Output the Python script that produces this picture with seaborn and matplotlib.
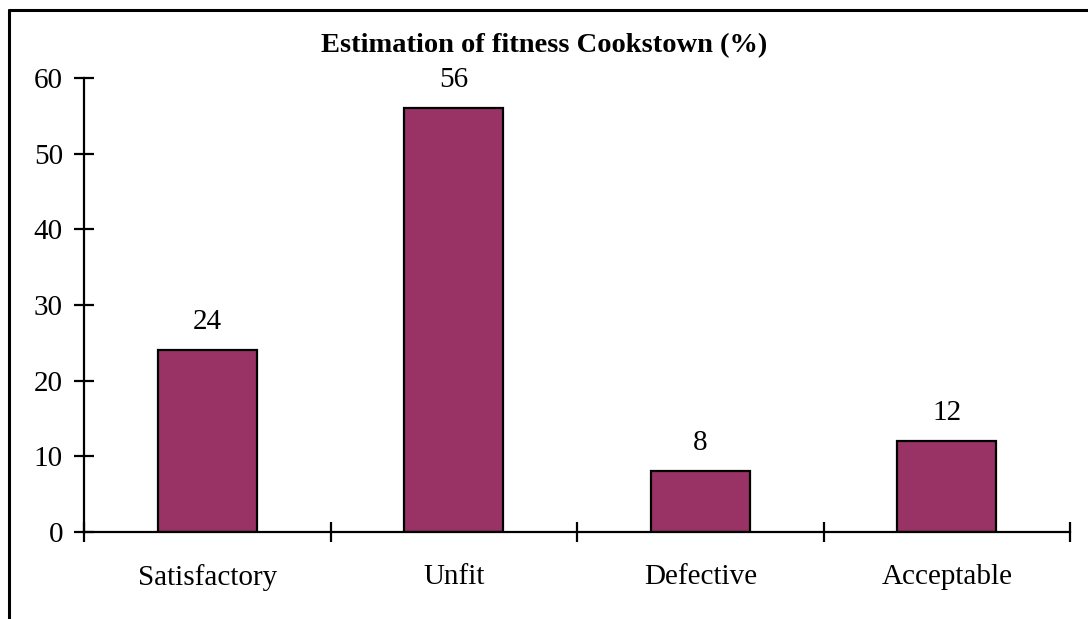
import matplotlib
matplotlib.use("Agg")
import matplotlib.pyplot as plt
from matplotlib.lines import Line2D
import seaborn as sns
import pandas as pd

# Fitness estimate per category (%)
categories = ["Satisfactory", "Unfit", "Defective", "Acceptable"]
values = [24, 56, 8, 12]
y_ticks = [0, 10, 20, 30, 40, 50, 60]
title = "Estimation of fitness Cookstown (%)"

sns.set_style("white")
plt.rcParams["font.family"] = ["Liberation Serif", "DejaVu Serif"]
plt.rcParams["text.color"] = "black"
plt.rcParams["xtick.color"] = "black"
plt.rcParams["ytick.color"] = "black"

df = pd.DataFrame({"category": categories, "value": values})

fig = plt.figure(figsize=(10.88, 6.19), dpi=100)
ax = fig.add_axes([0.0772, 0.1405, 0.9063, 0.7335])

sns.barplot(data=df, x="category", y="value", color="#993366",
            saturation=1, width=0.4, edgecolor="black", linewidth=1.6, ax=ax)

ax.set_xlim(-0.5, len(categories) - 0.5)
ax.set_ylim(y_ticks[0], y_ticks[-1])
ax.set_yticks(y_ticks)
ax.set_xlabel("")
ax.set_ylabel("")

# category labels at bar centres, divider ticks between categories
ax.set_xticks(range(len(categories)))
ax.set_xticklabels(categories)
ax.set_xticks([i - 0.5 for i in range(len(categories) + 1)], minor=True)
ax.tick_params(axis="x", which="major", bottom=True, length=0, pad=23,
               labelsize=21, labelcolor="black")
ax.tick_params(axis="x", which="minor", bottom=True, direction="inout",
               length=14.4, width=1.6, color="black")
ax.tick_params(axis="y", left=True, direction="inout", length=14.4,
               width=1.6, color="black", pad=8, labelsize=21,
               labelcolor="black")

for side in ("top", "right"):
    ax.spines[side].set_visible(False)
for side in ("left", "bottom"):
    ax.spines[side].set_color("black")
    ax.spines[side].set_linewidth(1.6)

ax.bar_label(ax.containers[0], labels=[str(v) for v in values],
             padding=11, fontsize=21, color="black")

fig.text(0.5, 0.927, title, ha="center", va="center",
         fontsize=20.5, fontweight="bold", color="black")

# outer frame (open on the right and bottom)
fig.add_artist(Line2D([0.0083, 1.0], [0.984, 0.984], color="black",
                      linewidth=2.2, transform=fig.transFigure))
fig.add_artist(Line2D([0.0083, 0.0083], [0.0, 0.984], color="black",
                      linewidth=2.2, transform=fig.transFigure))

fig.savefig("out.png", dpi=100, facecolor="white")
